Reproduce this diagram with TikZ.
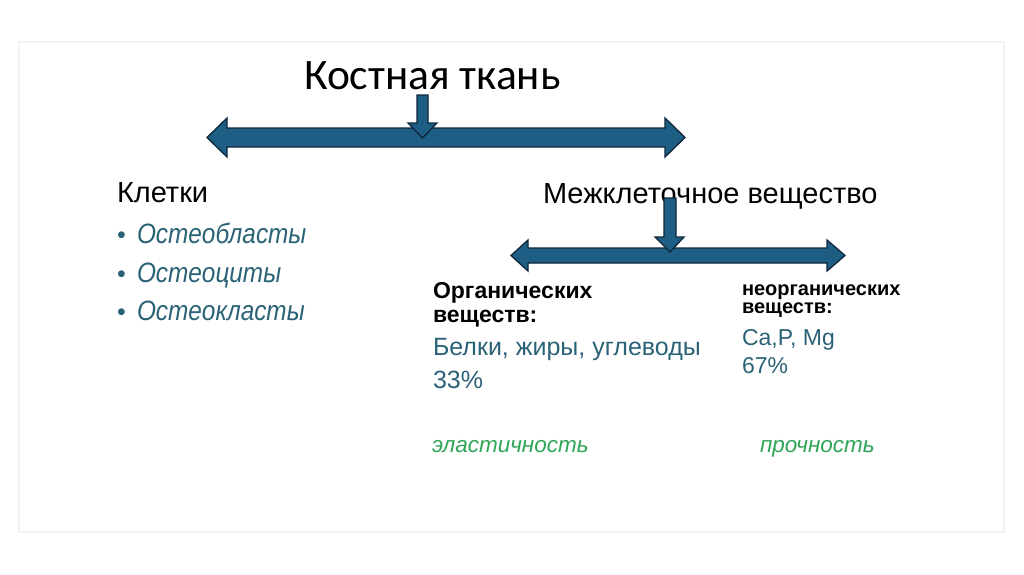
\documentclass[tikz,border=0pt]{standalone}
\usepackage{graphicx}
\usepackage{fontspec}
\setmainfont{Liberation Sans}
\newfontfamily\calibrifont{Carlito}
\definecolor{arrowblue}{RGB}{31,94,132}
\definecolor{arrowedge}{RGB}{14,38,58}
\definecolor{tealtext}{RGB}{42,98,118}
\definecolor{greentext}{RGB}{48,165,88}
\tikzset{
    blockarrow/.style={fill=arrowblue,draw=arrowedge,line width=1.3pt,line join=miter},
    txt/.style={anchor=base west,inner sep=0pt,outer sep=0pt},
}
\begin{document}
\begin{tikzpicture}[x=1pt,y=-1pt]
    \useasboundingbox (0,0) rectangle (1024,574);
    \draw[black!5,line width=1.5pt] (19,42) rectangle (1004,532);
    % title and first split
    \node[txt,font=\calibrifont\fontsize{43.5}{46}\selectfont] (title) at (304,89) {Костная ткань};
    \draw[blockarrow] (207,137.5) -- (227,118) -- (227,128) -- (665,128) -- (665,118) -- (685,137.5)
        -- (665,157) -- (665,147) -- (227,147) -- (227,157) -- cycle;
    \draw[blockarrow] (417,95) -- (428,95) -- (428,123) -- (437,123) -- (422.5,138) -- (408,123) -- (417,123) -- cycle;
    % cells
    \node[txt,font=\fontsize{29}{32}\selectfont] (cells) at (117,202) {Клетки};
    \foreach \name/\y in {Остеобласты/243,Остеоциты/282,Остеокласты/320}{
        \node[txt,tealtext,font=\fontsize{25}{30}\selectfont] at (117,\y) {•};
        \node[txt,tealtext,font=\itshape\fontsize{28}{30}\selectfont] at (137,\y) {\scalebox{0.87}[1]{\name}};
    }
    % matrix and second split
    \node[txt,font=\fontsize{29}{32}\selectfont] (matrix) at (543,203) {Межклеточное вещество};
    \draw[blockarrow] (511,255.5) -- (528,240) -- (528,248) -- (827,248) -- (827,240) -- (845,255.5)
        -- (827,271) -- (827,263) -- (528,263) -- (528,271) -- cycle;
    \draw[blockarrow] (664,198) -- (676,198) -- (676,237) -- (684,237) -- (670,252) -- (655,237) -- (664,237) -- cycle;
    % organic part
    \node[txt,font=\bfseries\fontsize{23}{24}\selectfont] (org) at (433,298) {Органических};
    \node[txt,font=\bfseries\fontsize{23}{24}\selectfont] (org2) at (433,322) {веществ:};
    \node[txt,tealtext,font=\fontsize{25}{28}\selectfont] (orgval) at (433,355) {Белки, жиры, углеводы};
    \node[txt,tealtext,font=\fontsize{25}{28}\selectfont] (orgpct) at (433,388) {33\%};
    \node[txt,greentext,font=\itshape\fontsize{22.5}{26}\selectfont] (elast) at (432,452) {эластичность};
    % inorganic part
    \node[txt,font=\bfseries\fontsize{20}{20}\selectfont] (inorg) at (742,295) {неорганических};
    \node[txt,font=\bfseries\fontsize{20}{20}\selectfont] (inorg2) at (742,313) {веществ:};
    \node[txt,tealtext,font=\fontsize{23}{26}\selectfont] (inorgval) at (742,345) {Ca,P, Mg};
    \node[txt,tealtext,font=\fontsize{23}{26}\selectfont] (inorgpct) at (742,373) {67\%};
    \node[txt,greentext,font=\itshape\fontsize{22.5}{26}\selectfont] (strength) at (760,452) {прочность};
\end{tikzpicture}
\end{document}
